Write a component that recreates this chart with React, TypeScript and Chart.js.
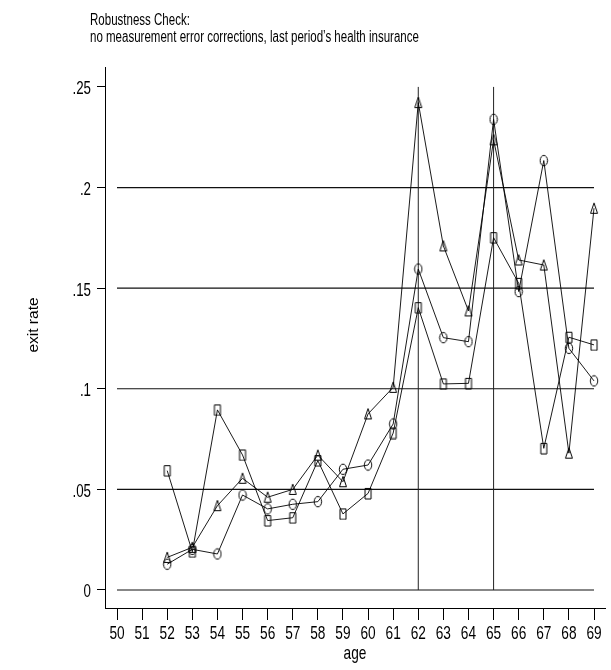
import React, { useEffect, useRef } from "react";
import { Chart, registerables } from "chart.js";

Chart.register(...registerables);

// ---- data ----
const ages = [52, 53, 54, 55, 56, 57, 58, 59, 60, 61, 62, 63, 64, 65, 66, 67, 68, 69];
const seriesTriangle = [0.0162, 0.0212, 0.0419, 0.0555, 0.0461, 0.05, 0.067, 0.0538, 0.0875, 0.1007, 0.2422, 0.171, 0.1387, 0.2237, 0.164, 0.1615, 0.068, 0.1897];
const seriesCircle = [0.0128, 0.0202, 0.0179, 0.0472, 0.0403, 0.0426, 0.0439, 0.06, 0.0621, 0.0825, 0.1595, 0.1254, 0.1234, 0.2339, 0.1483, 0.2134, 0.1201, 0.1039];
const seriesSquare = [0.0593, 0.019, 0.0895, 0.0671, 0.0345, 0.0359, 0.0643, 0.0378, 0.048, 0.078, 0.1403, 0.1024, 0.1027, 0.1751, 0.1524, 0.0704, 0.1256, 0.1218];

const xTickValues = [50, 51, 52, 53, 54, 55, 56, 57, 58, 59, 60, 61, 62, 63, 64, 65, 66, 67, 68, 69];
const xTickLabels = xTickValues.map((v) => String(v));
const yTickValues = [0, 0.05, 0.1, 0.15, 0.2, 0.25];
const yTickLabels = ["0", ".05", ".1", ".15", ".2", ".25"];
const yGridValues = [0, 0.05, 0.1, 0.15, 0.2];
const xRefLines = [62, 65];

const titleLines = ["Robustness Check:", "no measurement error corrections, last period\u2019s health insurance"];
const xTitle = "age";
const yTitle = "exit rate";

const FONT = "'Liberation Sans', Arial, Helvetica, sans-serif";
const SQUEEZE = 0.72;

function makeMarker(kind: string): HTMLCanvasElement {
  const c = document.createElement("canvas");
  c.width = 10;
  c.height = 13;
  const ctx = c.getContext("2d")!;
  ctx.strokeStyle = "#000";
  ctx.lineWidth = 1;
  ctx.beginPath();
  if (kind === "circle") {
    ctx.ellipse(5, 6.5, 3.7, 5.2, 0, 0, Math.PI * 2);
  } else if (kind === "square") {
    ctx.rect(2, 1.5, 6, 10.5);
  } else {
    ctx.moveTo(5, 1.2);
    ctx.lineTo(1.5, 11.5);
    ctx.lineTo(8.5, 11.5);
    ctx.closePath();
  }
  ctx.stroke();
  return c;
}

function squeezedText(ctx: CanvasRenderingContext2D, text: string, x: number, y: number, align: string) {
  const w = ctx.measureText(text).width * SQUEEZE;
  let left = x;
  if (align === "center") left = x - w / 2;
  else if (align === "right") left = x - w;
  ctx.save();
  ctx.translate(left, y);
  ctx.scale(SQUEEZE, 1);
  ctx.textAlign = "left";
  ctx.fillText(text, 0, 0);
  ctx.restore();
}

const decorPlugin = {
  id: "decor",
  beforeDatasetsDraw(chart: any) {
    const { ctx, scales } = chart;
    const x = scales.x;
    const y = scales.y;
    ctx.save();
    ctx.strokeStyle = "#111";
    ctx.lineWidth = 1.2;
    const x0 = x.getPixelForValue(xTickValues[0]);
    const x1 = x.getPixelForValue(xTickValues[xTickValues.length - 1]);
    yGridValues.forEach((v) => {
      const py = y.getPixelForValue(v);
      ctx.beginPath();
      ctx.moveTo(x0, py);
      ctx.lineTo(x1, py);
      ctx.stroke();
    });
    ctx.lineWidth = 1;
    ctx.strokeStyle = "#222";
    const yb = y.getPixelForValue(yTickValues[0]);
    const yt = y.getPixelForValue(yTickValues[yTickValues.length - 1]);
    xRefLines.forEach((v) => {
      const px = x.getPixelForValue(v);
      ctx.beginPath();
      ctx.moveTo(px, yb);
      ctx.lineTo(px, yt);
      ctx.stroke();
    });
    ctx.restore();
  },
  afterDraw(chart: any) {
    const { ctx, chartArea, scales } = chart;
    const x = scales.x;
    const y = scales.y;
    ctx.save();
    ctx.fillStyle = "#000";
    ctx.textBaseline = "alphabetic";
    // title
    ctx.font = "16px " + FONT;
    squeezedText(ctx, titleLines[0], 90, 25, "left");
    squeezedText(ctx, titleLines[1], 90, 42, "left");
    // x tick labels
    ctx.font = "19px " + FONT;
    xTickValues.forEach((v, i) => {
      squeezedText(ctx, xTickLabels[i], x.getPixelForValue(v), 639, "center");
    });
    // y tick labels
    ctx.font = "18.5px " + FONT;
    yTickValues.forEach((v, i) => {
      squeezedText(ctx, yTickLabels[i], 91, y.getPixelForValue(v) + 7.5, "right");
    });
    // x title
    ctx.font = "19px " + FONT;
    squeezedText(ctx, xTitle, (chartArea.left + chartArea.right) / 2, 659, "center");
    // y title
    ctx.font = "15.5px " + FONT;
    ctx.translate(38, 325);
    ctx.rotate(-Math.PI / 2);
    ctx.textAlign = "center";
    ctx.fillText(yTitle, 0, 0);
    ctx.restore();
  },
};

export default function App() {
  const ref = useRef<HTMLCanvasElement | null>(null);
  useEffect(() => {
    if (!ref.current) return;
    const tri = makeMarker("triangle");
    const cir = makeMarker("circle");
    const sq = makeMarker("square");
    const mk = (vals: number[], style: HTMLCanvasElement) => ({
      data: ages.map((a, i) => ({ x: a, y: vals[i] })),
      borderColor: "#000",
      borderWidth: 0.9,
      pointStyle: style,
      pointRadius: 4,
      fill: false,
      tension: 0,
    });
    const chart = new Chart(ref.current, {
      type: "line",
      data: {
        datasets: [mk(seriesTriangle, tri), mk(seriesCircle, cir), mk(seriesSquare, sq)],
      },
      options: {
        animation: false,
        responsive: false,
        devicePixelRatio: 1,
        layout: { padding: { left: 0, top: 67, right: 6, bottom: 0 } },
        plugins: { legend: { display: false }, tooltip: { enabled: false }, title: { display: false } },
        scales: {
          x: {
            type: "linear",
            min: 49.522,
            max: 69.438,
            afterBuildTicks: (s: any) => {
              s.ticks = xTickValues.map((v) => ({ value: v }));
            },
            afterFit: (s: any) => {
              s.height = 62;
            },
            ticks: { display: false, autoSkip: false, maxRotation: 0 },
            grid: { display: true, drawOnChartArea: false, drawTicks: true, tickLength: 12, color: "#000", lineWidth: 1 },
            border: { display: true, color: "#000", width: 1 },
          },
          y: {
            type: "linear",
            min: -0.00895,
            max: 0.2599,
            afterBuildTicks: (s: any) => {
              s.ticks = yTickValues.map((v) => ({ value: v }));
            },
            afterFit: (s: any) => {
              s.width = 105;
            },
            ticks: { display: false },
            grid: { display: true, drawOnChartArea: false, drawTicks: true, tickLength: 8, color: "#000", lineWidth: 1 },
            border: { display: true, color: "#000", width: 1 },
          },
        },
      },
      plugins: [decorPlugin],
    } as any);
    return () => chart.destroy();
  }, []);
  return (
    <div style={{ position: "absolute", left: 0, top: 0, width: 611, height: 670 }}>
      <canvas ref={ref} width={611} height={670} />
    </div>
  );
}
